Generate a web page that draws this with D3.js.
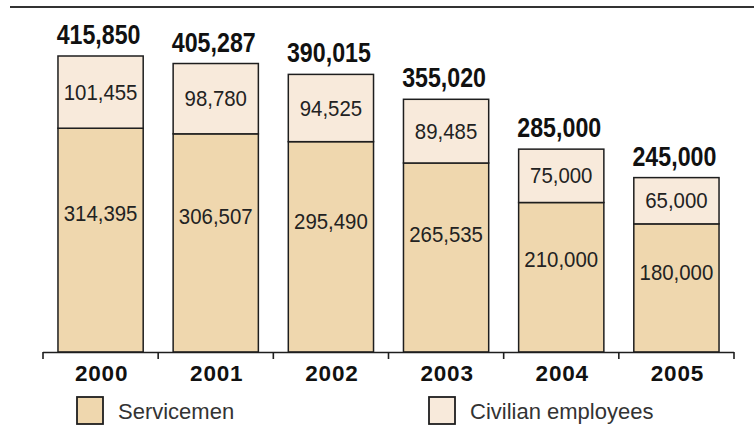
<!DOCTYPE html>
<html>
<head>
<meta charset="utf-8">
<script src="https://cdnjs.cloudflare.com/ajax/libs/d3/7.8.5/d3.min.js"></script>
<style>
  body { margin: 0; background: #fff; }
  svg { display: block; }
</style>
</head>
<body>
<div id="vis"></div>
<script>
// data
var years      = ["2000", "2001", "2002", "2003", "2004", "2005"];
var servicemen = [314395, 306507, 295490, 265535, 210000, 180000];
var civilians  = [101455, 98780, 94525, 89485, 75000, 65000];
var totals     = [415850, 405287, 390015, 355020, 285000, 245000];
var legendLabels = ["Servicemen", "Civilian employees"];

var W = 754, H = 432;
var colServ = "#efd7ae", colCiv = "#f8eadb", ink = "#1e1e1e";
var fmt = d3.format(",");

var svg = d3.select("#vis")
  .append("svg")
  .attr("width", W)
  .attr("height", H);

var x = d3.scaleBand()
  .domain(years)
  .range([43, 734])
  .paddingInner(0.26)
  .paddingOuter(0.13);

var y = d3.scaleLinear()
  .domain([0, d3.max(totals)])
  .range([352, 56]);

// top rule
svg.append("line")
  .attr("x1", 10).attr("x2", W)
  .attr("y1", 7).attr("y2", 7)
  .attr("stroke", "#333")
  .attr("stroke-width", 2.2);

////////// bars //////////

var bars = svg.selectAll("g.bar")
  .data(years)
  .enter()
  .append("g")
  .attr("class", "bar");

// servicemen (bottom)
bars.append("rect")
  .attr("x", function (d) { return x(d); })
  .attr("width", x.bandwidth())
  .attr("y", function (d, i) { return y(servicemen[i]); })
  .attr("height", function (d, i) { return y(0) - y(servicemen[i]); })
  .attr("fill", colServ)
  .attr("stroke", ink)
  .attr("stroke-width", 1.5);

// civilians (top)
bars.append("rect")
  .attr("x", function (d) { return x(d); })
  .attr("width", x.bandwidth())
  .attr("y", function (d, i) { return y(servicemen[i] + civilians[i]); })
  .attr("height", function (d, i) { return y(servicemen[i]) - y(servicemen[i] + civilians[i]); })
  .attr("fill", colCiv)
  .attr("stroke", ink)
  .attr("stroke-width", 1.5);

// inner labels
bars.append("text")
  .attr("transform", function (d, i) {
    var top = y(servicemen[i]);
    return "translate(" + (x(d) + x.bandwidth() / 2) + "," + (top + (y(0) - top) * 0.38 + 7.5) + ") scale(0.95,1)";
  })
  .attr("text-anchor", "middle")
  .style("font", "21.5px 'Liberation Sans', Arial, sans-serif")
  .style("fill", "#222")
  .text(function (d, i) { return fmt(servicemen[i]); });

bars.append("text")
  .attr("transform", function (d, i) {
    var top = y(servicemen[i] + civilians[i]), bot = y(servicemen[i]);
    return "translate(" + (x(d) + x.bandwidth() / 2) + "," + ((top + bot) / 2 + 7.5) + ") scale(0.95,1)";
  })
  .attr("text-anchor", "middle")
  .style("font", "21.5px 'Liberation Sans', Arial, sans-serif")
  .style("fill", "#222")
  .text(function (d, i) { return fmt(civilians[i]); });

// totals above bars (condensed bold)
bars.append("text")
  .attr("transform", function (d, i) {
    return "translate(" + (x(d) + x.bandwidth() / 2 - 2) + "," + (y(totals[i]) - 12) + ") scale(0.86,1)";
  })
  .attr("text-anchor", "middle")
  .style("font", "bold 27px 'Liberation Sans', Arial, sans-serif")
  .style("fill", "#111")
  .text(function (d, i) { return fmt(totals[i]); });

////////// axis //////////

var axis = svg.append("g");

axis.append("line")
  .attr("x1", x.range()[0]).attr("x2", x.range()[1])
  .attr("y1", 352.5).attr("y2", 352.5)
  .attr("stroke", ink)
  .attr("stroke-width", 1.6);

var step = x.step();
axis.selectAll("line.tick")
  .data(d3.range(years.length + 1))
  .enter()
  .append("line")
  .attr("class", "tick")
  .attr("x1", function (i) { return x.range()[0] + i * step; })
  .attr("x2", function (i) { return x.range()[0] + i * step; })
  .attr("y1", 352).attr("y2", 359)
  .attr("stroke", ink)
  .attr("stroke-width", 1.6);

axis.selectAll("text")
  .data(years)
  .enter()
  .append("text")
  .attr("x", function (d) { return x(d) + x.bandwidth() / 2 + 1; })
  .attr("y", 381)
  .attr("text-anchor", "middle")
  .style("font", "bold 22.5px 'Liberation Sans', Arial, sans-serif")
  .style("letter-spacing", "0.8px")
  .style("fill", "#111")
  .text(function (d) { return d; });

////////// legend //////////

var legend = svg.selectAll("g.legend")
  .data(legendLabels)
  .enter()
  .append("g")
  .attr("class", "legend")
  .attr("transform", function (d, i) { return "translate(" + [77, 429][i] + ",397)"; });

legend.append("rect")
  .attr("width", 26)
  .attr("height", 27)
  .attr("fill", function (d, i) { return i == 0 ? colServ : colCiv; })
  .attr("stroke", ink)
  .attr("stroke-width", 1.8);

legend.append("text")
  .attr("x", 41)
  .attr("y", 22)
  .style("font", "22px 'Liberation Sans', Arial, sans-serif")
  .style("fill", "#333")
  .text(function (d) { return d; });
</script>
</body>
</html>
